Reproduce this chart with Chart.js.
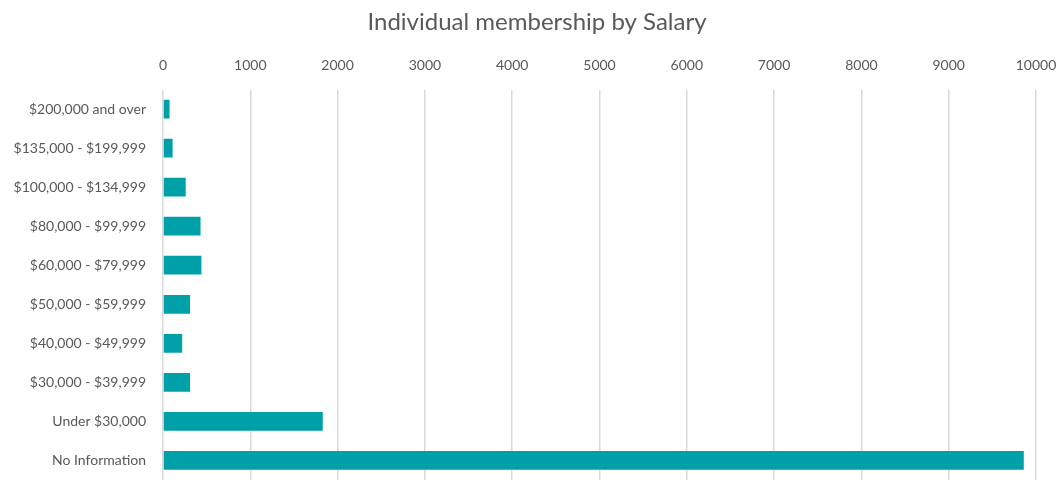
<!DOCTYPE html>
<html>
<head>
<meta charset="utf-8">
<script src="https://cdn.jsdelivr.net/npm/chart.js@4"></script>
<style>
html,body{margin:0;padding:0;background:#fff;}
#wrap{width:1062px;height:480px;position:relative;}
</style>
</head>
<body>
<div id="wrap"><canvas id="c" width="1062" height="480"></canvas></div>
<script>
const categories = ["$200,000 and over","$135,000 - $199,999","$100,000 - $134,999","$80,000 - $99,999","$60,000 - $79,999","$50,000 - $59,999","$40,000 - $49,999","$30,000 - $39,999","Under $30,000","No Information"];
const members = [75, 110, 260, 430, 440, 310, 220, 310, 1830, 9860];
const xTicks = [0,1000,2000,3000,4000,5000,6000,7000,8000,9000,10000];

const FONT = "Lato, 'Open Sans', sans-serif";
const TXT = '#595959';

new Chart(document.getElementById('c'), {
  type: 'bar',
  data: {
    labels: categories,
    datasets: [{
      label: 'Individual membership',
      data: members,
      backgroundColor: '#00A0A8',
      borderWidth: 0,
      barPercentage: 0.48,
      categoryPercentage: 1
    }]
  },
  options: {
    indexAxis: 'y',
    responsive: false,
    animation: false,
    layout: { padding: { left: 12, right: 0, top: 0, bottom: 0 } },
    plugins: {
      legend: { display: false },
      tooltip: { enabled: false },
      title: {
        display: true,
        text: 'Individual membership by Salary',
        color: TXT,
        font: { family: FONT, size: 24, weight: 'normal' },
        padding: { top: 8, bottom: 10 }
      }
    },
    scales: {
      x: {
        position: 'top',
        min: 0, max: 10000,
        afterBuildTicks: (s) => { s.ticks = xTicks.map(v => ({ value: v })); },
        afterFit: (s) => { s.height = 42.7; s.paddingLeft = 0; s.paddingRight = 26; },
        ticks: { color: TXT, font: { family: FONT, size: 14 }, padding: 16, maxRotation: 0,
                 callback: (v) => String(v) },
        grid: { color: '#d9d9d9', lineWidth: 1.5, drawTicks: false },
        border: { display: false }
      },
      y: {
        afterFit: (s) => { s.width = 151; s.paddingTop = 0; s.paddingBottom = 0; },
        ticks: { color: TXT, font: { family: FONT, size: 14 }, padding: 17 },
        grid: { display: false, drawTicks: false },
        border: { display: false }
      }
    }
  }
});
</script>
</body>
</html>
